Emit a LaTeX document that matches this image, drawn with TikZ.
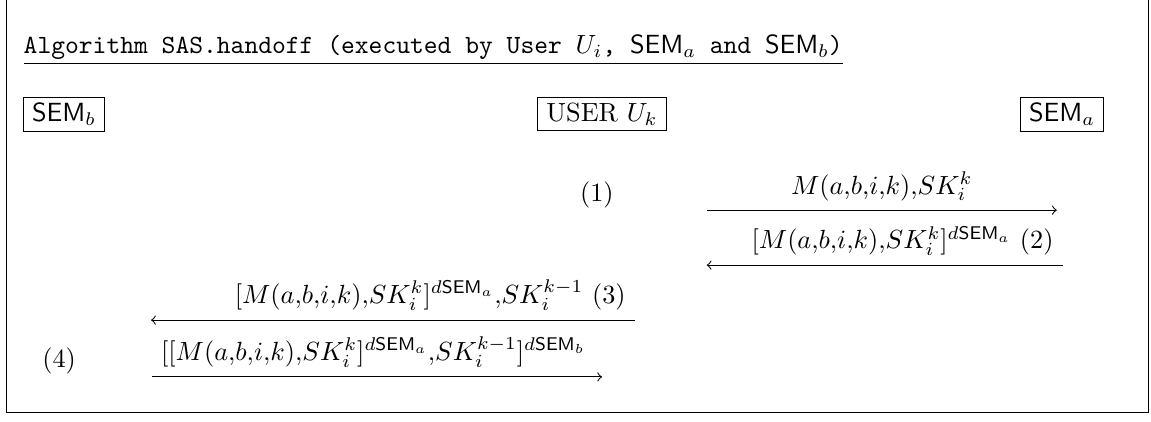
\documentclass[tikz,border=0pt]{standalone}
\usetikzlibrary{arrows}

\newcommand{\sem}{\textsf{SEM}}
\newcommand{\dsem}[1]{d\mathsf{SEM}_{#1}}

\begin{document}
\begin{tikzpicture}[box/.style={draw,inner ysep=2pt},msg/.style={->}]
\useasboundingbox (0,0) rectangle (15.39,5.63);
\draw (0.087,5.63) -- (0.087,0.12) -- (15.35,0.12) -- (15.35,5.63);

\node[anchor=base west,inner sep=0pt] (title) at (0.31,4.91)
  {\underline{\texttt{Algorithm SAS.handoff (executed by User $U_i$, \sem$_a$ and \sem$_b$)}}};

\node[box] (semb) at (0.856,4.10) {\sem$_b$};
\node[box] (user) at (8.05,4.10) {USER $U_k$};
\node[box] (sema) at (14.2,4.10) {\sem$_a$};

\node (n1) at (7.98,3.02) {(1)};
\node (n4) at (0.79,0.80) {(4)};

\coordinate (m1a) at (9.45,2.82);
\coordinate (m1b) at (14.13,2.82);
\coordinate (m2a) at (14.21,2.085);
\coordinate (m2b) at (9.45,2.085);
\coordinate (m3a) at (8.49,1.35);
\coordinate (m3b) at (2.02,1.35);
\coordinate (m4a) at (2.03,0.59);
\coordinate (m4b) at (8.05,0.59);

\draw[msg] (m1a) -- node[above] {$M(a{,}b{,}i{,}k){,}SK_i^k$} (m1b);
\draw[msg] (m2a) -- (m2b);
\node[anchor=south east] (l2) at (m2a) {$[M(a{,}b{,}i{,}k){,}SK_i^k]^{\dsem{a}}$ (2)};
\draw[msg] (m3a) -- (m3b);
\node[anchor=south east] (l3) at (m3a) {$[M(a{,}b{,}i{,}k){,}SK_i^k]^{\dsem{a}}{,}SK_i^{k-1}$ (3)};
\draw[msg] (m4a) -- (m4b);
\node[anchor=south west] (l4) at (m4a) {$[[M(a{,}b{,}i{,}k){,}SK_i^k]^{\dsem{a}}{,}SK_i^{k-1}]^{\dsem{b}}$};
\end{tikzpicture}
\end{document}
